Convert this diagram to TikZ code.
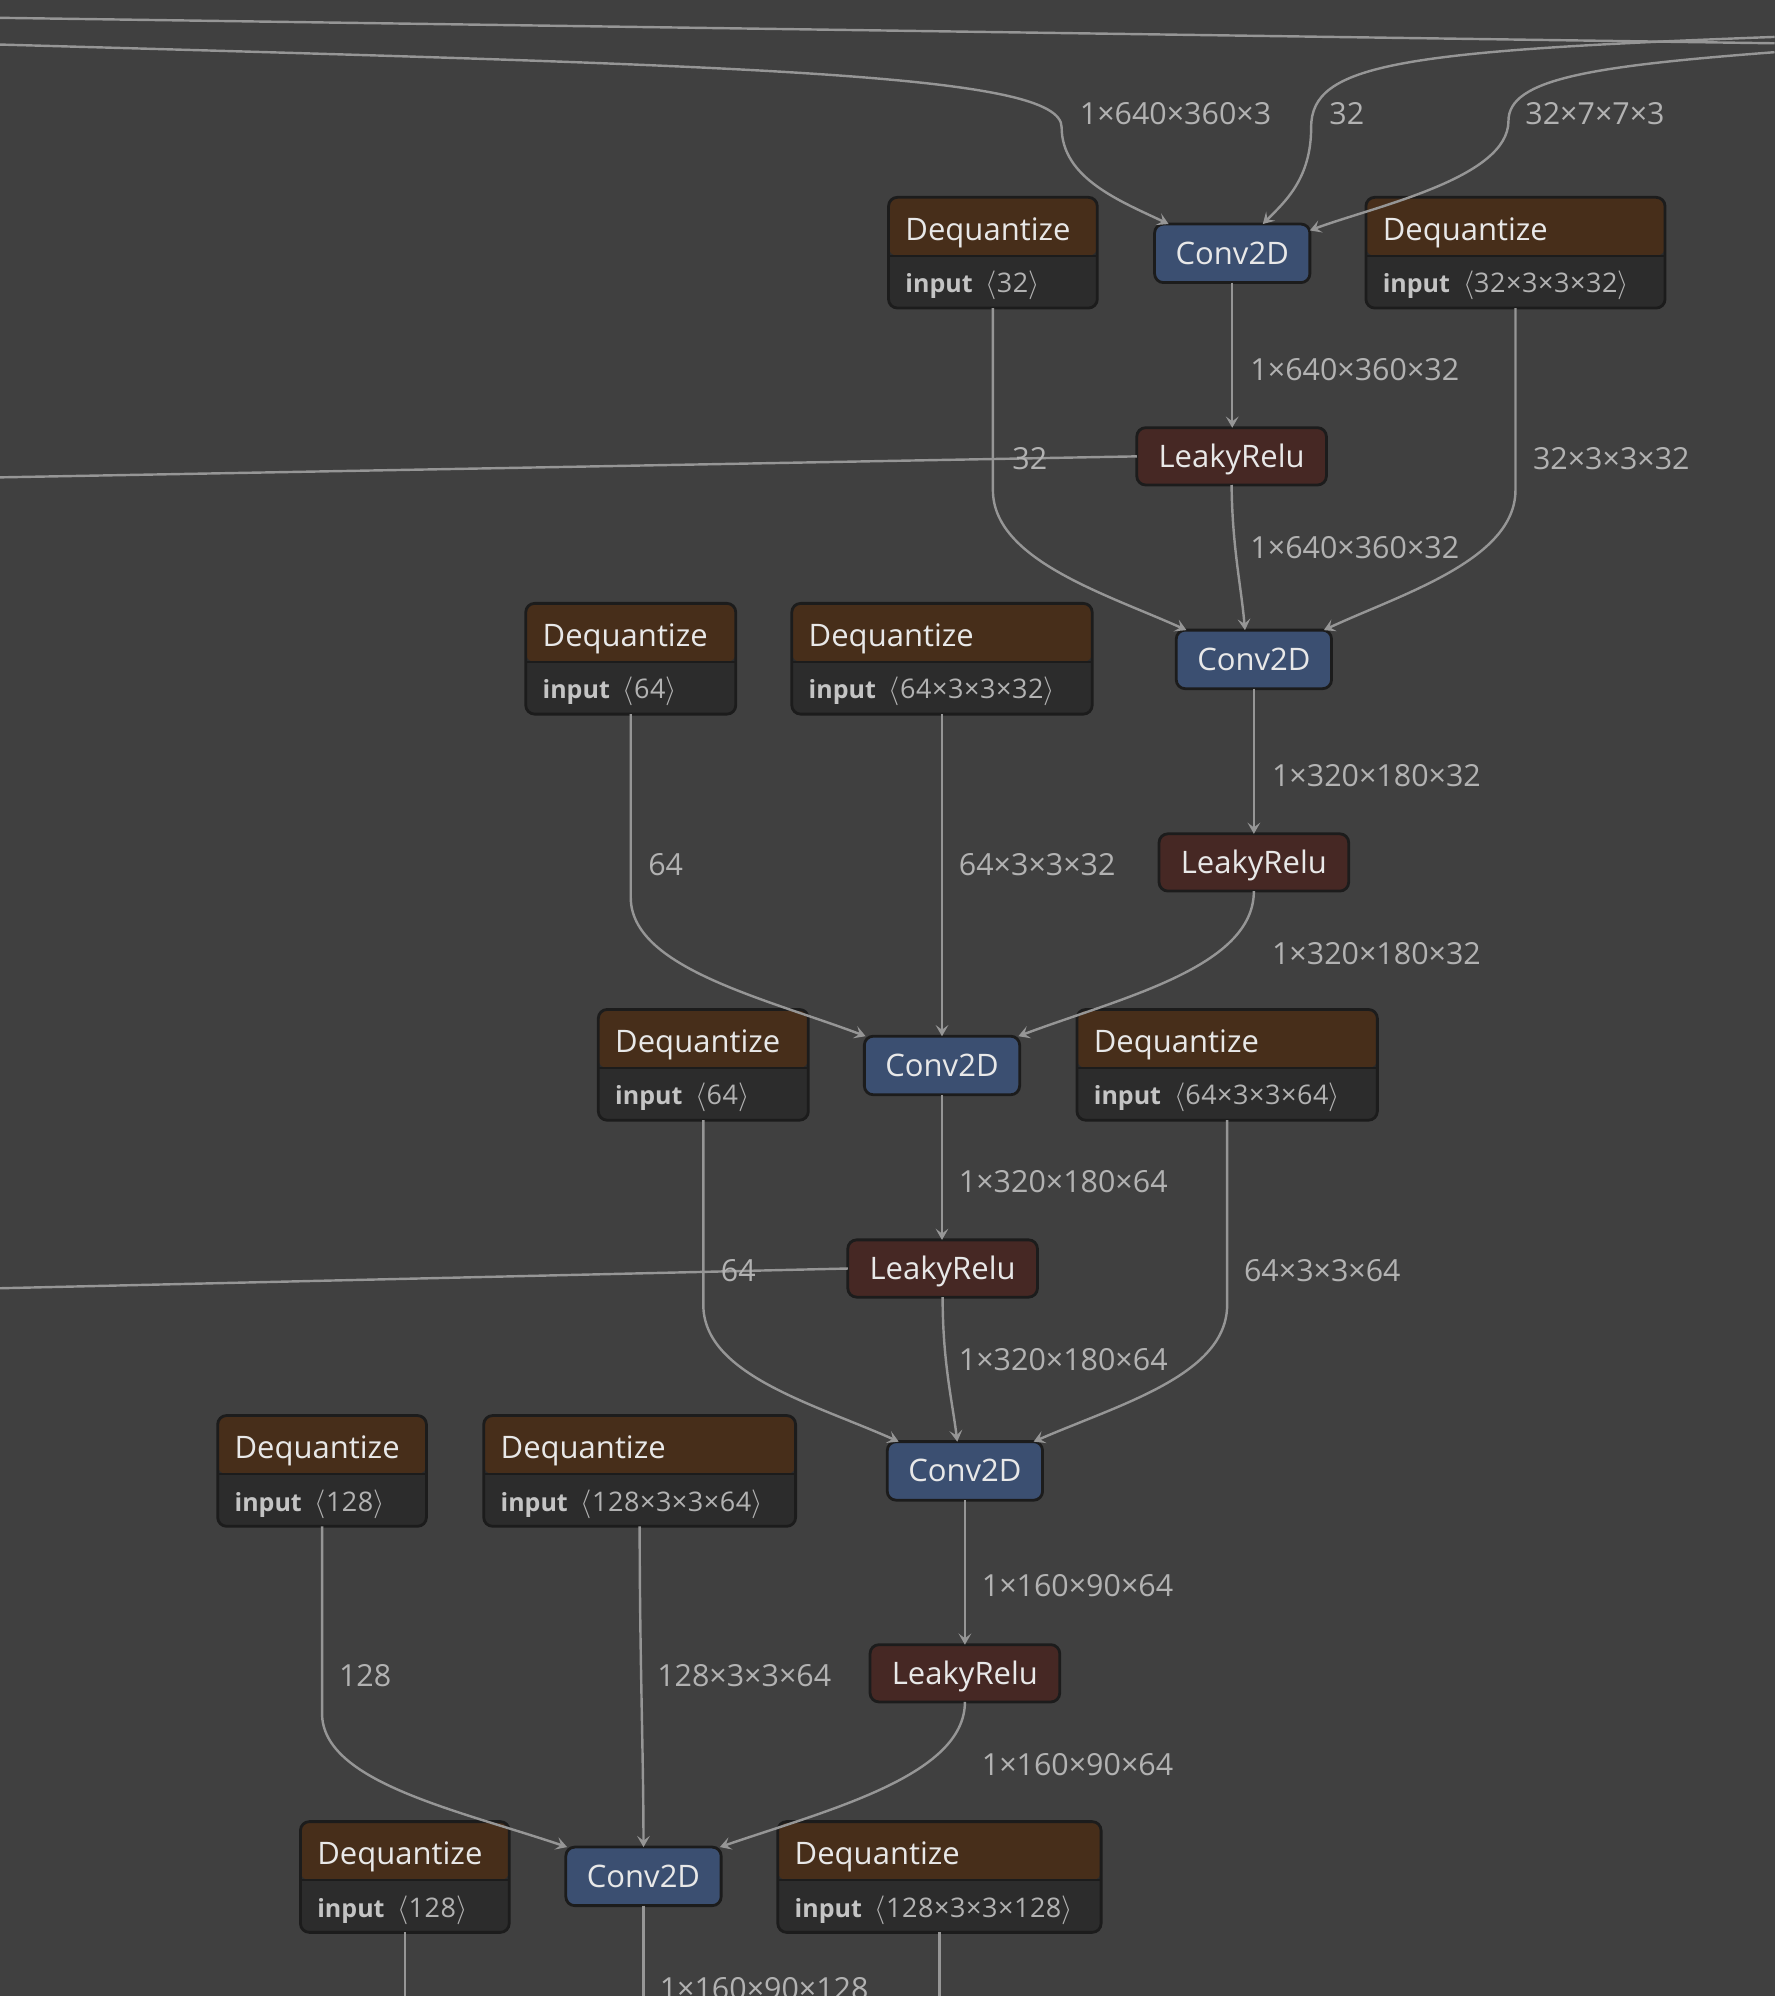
\documentclass[tikz,border=0pt]{standalone}
\usepackage{fontspec}
\setmainfont{Open Sans}
\usetikzlibrary{arrows.meta}
\newlength\ux \setlength\ux{0.6363pt}
\definecolor{bgc}{HTML}{404040}
\definecolor{hdrc}{HTML}{472E1A}
\definecolor{bodyc}{HTML}{2C2C2C}
\definecolor{convc}{HTML}{3B4F71}
\definecolor{reluc}{HTML}{462824}
\definecolor{brdc}{HTML}{1C1C1C}
\definecolor{edgec}{HTML}{969696}
\definecolor{txtc}{HTML}{E8E8E8}
\definecolor{lblc}{HTML}{B2B2B2}
\definecolor{inpc}{HTML}{C4C4C4}
\tikzset{
  opbox/.style={rectangle, rounded corners=7\ux, draw=brdc, line width=2.2\ux, outer sep=0pt, inner sep=0pt,
    text=txtc, font=\fontsize{15.5}{18}\selectfont, text height=11.07pt, text depth=0pt},
  convbox/.style={opbox, fill=convc, minimum width=122\ux, minimum height=46\ux},
  relubox/.style={opbox, fill=reluc, minimum width=149\ux, minimum height=45\ux},
  dqbox/.style={rectangle, rounded corners=7\ux, draw=brdc, line width=2.2\ux, outer sep=0pt, inner sep=0pt,
    fill=bodyc, minimum height=87\ux,
    path picture={\fill[hdrc] (path picture bounding box.north west) rectangle ([yshift=-46\ux]path picture bounding box.north east);
      \draw[brdc, line width=2\ux] ([yshift=-46\ux]path picture bounding box.north west) -- ([yshift=-46\ux]path picture bounding box.north east);}},
  dqhead/.style={anchor=base west, inner sep=0pt, text=txtc, font=\fontsize{15.5}{18}\selectfont},
  dqbody/.style={anchor=base west, inner sep=0pt, text=lblc, font=\fontsize{12.5}{15}\selectfont},
  lbl/.style={anchor=west, inner sep=0pt, text=lblc, font=\fontsize{15.2}{18}\selectfont, text height=10.85pt, text depth=0pt},
  edge/.style={draw=edgec, line width=1.9\ux},
  arr/.style={edge, -{Stealth[length=5.6pt, width=6.4pt, inset=2.4pt]}}
}
\newcommand\dqnode[5]{%
  \node[dqbox, minimum width=#4\ux, anchor=north] (#1) at (#2,#3) {};
  \node[dqhead] (#1h) at ([xshift=13\ux, yshift=-34\ux]#1.north west) {Dequantize};
  \node[dqbody] (#1b) at ([xshift=13\ux, yshift=-75\ux]#1.north west) {{\color{inpc}\textbf{input}}\ \ {\fontsize{13.5}{15}\selectfont\addfontfeature{LetterSpace=2}$\langle$#5$\rangle$}};
}
\begin{document}
\begin{tikzpicture}[x=0.6363pt, y=-0.6363pt]
\fill[bgc] (0,0) rectangle (1394,1568);
\useasboundingbox (0,0) rectangle (1394,1568);
\clip (0,0) rectangle (1394,1568);

% operator nodes
\node[convbox] (conv1) at (968,199) {Conv2D};
\node[relubox] (lr1) at (967.5,358.5) {LeakyRelu};
\node[convbox] (conv2) at (985,518) {Conv2D};
\node[relubox] (lr2) at (985,677.5) {LeakyRelu};
\node[convbox] (conv3) at (740,837) {Conv2D};
\node[relubox] (lr3) at (740.5,996.5) {LeakyRelu};
\node[convbox] (conv4) at (758,1155.5) {Conv2D};
\node[relubox] (lr4) at (758,1314.5) {LeakyRelu};
\node[convbox] (conv5) at (505.5,1474) {Conv2D};

% dequantize nodes
\dqnode{dq1}{780}{155}{164}{32}
\dqnode{dq2}{1190.5}{155}{235}{32×3×3×32}
\dqnode{dq3}{495.5}{474}{165}{64}
\dqnode{dq4}{740}{474}{236}{64×3×3×32}
\dqnode{dq5}{552.5}{793}{165}{64}
\dqnode{dq6}{964}{793}{236}{64×3×3×64}
\dqnode{dq7}{253}{1112}{164}{128}
\dqnode{dq8}{502.5}{1112}{245}{128×3×3×64}
\dqnode{dq9}{318}{1431}{164}{128}
\dqnode{dq10}{738}{1431}{254}{128×3×3×128}

% free ends
\coordinate (tl) at (0,14);
\coordinate (tr) at (1394,34);
\coordinate (in0) at (0,35);
\coordinate (inb) at (1394,29);
\coordinate (inw) at (1394,41);
\coordinate (out1) at (0,375);
\coordinate (out3) at (0,1012);
\coordinate (bot) at (0,1575);

% connectors
\draw[edge] (tl) -- (tr);
\draw[arr] (in0) .. controls (600,52) and (834,58) .. (834,100) .. controls (834,140) and (880,158) .. ([xshift=-50\ux]conv1.north);
\draw[arr] (inb) .. controls (1100,40) and (1030,50) .. (1030,100) .. controls (1030,140) and (1010,158) .. ([xshift=24\ux]conv1.north);
\draw[arr] (inw) .. controls (1250,52) and (1185,62) .. (1185,95) .. controls (1185,140) and (1080,162) .. ([yshift=-5\ux]conv1.north east);

\draw[arr] (conv1.south) -- (conv1.south |- lr1.north);
\draw[edge] (lr1.west) -- (out1);
\draw[arr] (lr1.south) .. controls (968,430) and (975,460) .. ([xshift=-7\ux]conv2.north);
\draw[arr] (dq1.south) -- ++(0,143) .. controls (780,440) and (870,467) .. ([xshift=-53\ux]conv2.north);
\draw[arr] (dq2.south) -- ++(0,143) .. controls (1190.5,440) and (1100,467) .. ([xshift=55\ux]conv2.north);

\draw[arr] (conv2.south) -- (lr2.north);
\draw[arr] (dq3.south) -- ++(0,144) .. controls (495.5,760) and (600,784) .. ([xshift=1\ux]conv3.north west);
\draw[arr] (dq4.south) -- (conv3.north);
\draw[arr] (lr2.south) .. controls (985,760) and (880,784) .. ([xshift=-1\ux]conv3.north east);

\draw[arr] (conv3.south) -- (conv3.south |- lr3.north);
\draw[edge] (lr3.west) -- (out3);
\draw[arr] (lr3.south) .. controls (740.5,1070) and (748,1100) .. ([xshift=-6\ux]conv4.north);
\draw[arr] (dq5.south) -- ++(0,145) .. controls (552.5,1080) and (640,1103) .. ([xshift=-52\ux]conv4.north);
\draw[arr] (dq6.south) -- ++(0,145) .. controls (964,1080) and (880,1103) .. ([xshift=54\ux]conv4.north);

\draw[arr] (conv4.south) -- (lr4.north);
\draw[arr] (dq7.south) -- ++(0,147) .. controls (253,1400) and (360,1422) .. ([xshift=1\ux]conv5.north west);
\draw[arr] (dq8.south) .. controls (502.5,1300) and (505.5,1380) .. (conv5.north);
\draw[arr] (lr4.south) .. controls (758,1395) and (650,1422) .. ([xshift=-1\ux]conv5.north east);

\draw[edge] (conv5.south) -- (conv5.south |- bot);
\draw[edge] (dq9.south) -- (dq9.south |- bot);
\draw[edge] (dq10.south) -- (dq10.south |- bot);

% labels
\node[lbl] (l1) at (848,89) {1×640×360×3};
\node[lbl] (l2) at (1044,89) {32};
\node[lbl] (l3) at (1198,89) {32×7×7×3};
\node[lbl] (l4) at (982,290) {1×640×360×32};
\node[lbl] (l5) at (795,360) {32};
\node[lbl] (l6) at (1204,360) {32×3×3×32};
\node[lbl] (l7) at (982,430) {1×640×360×32};
\node[lbl] (l8) at (999,609) {1×320×180×32};
\node[lbl] (l9) at (509,679) {64};
\node[lbl] (l10) at (753,679) {64×3×3×32};
\node[lbl] (l11) at (999,749) {1×320×180×32};
\node[lbl] (l12) at (753,928) {1×320×180×64};
\node[lbl] (l13) at (566,998) {64};
\node[lbl] (l14) at (977,998) {64×3×3×64};
\node[lbl] (l15) at (753,1068) {1×320×180×64};
\node[lbl] (l16) at (771,1246) {1×160×90×64};
\node[lbl] (l17) at (266,1316) {128};
\node[lbl] (l18) at (516,1316) {128×3×3×64};
\node[lbl] (l19) at (771,1386) {1×160×90×64};
\node[lbl] (l20) at (518,1562) {1×160×90×128};
\end{tikzpicture}
\end{document}
